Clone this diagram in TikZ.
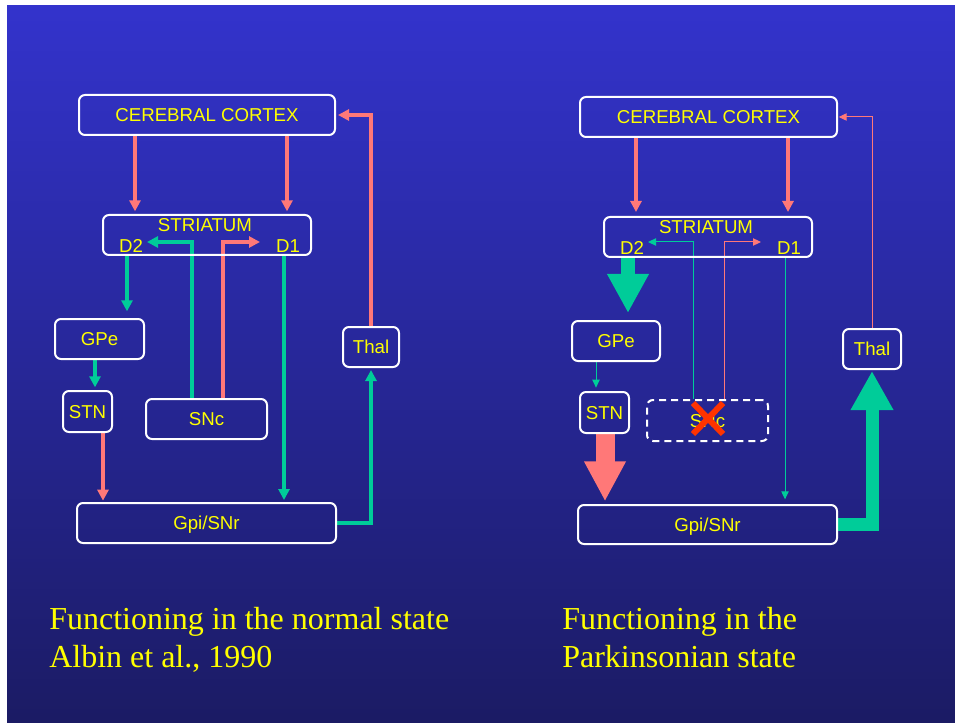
\documentclass[tikz,border=0pt]{standalone}
\usepackage{fontspec}
\setmainfont{Liberation Serif}
\setsansfont{Liberation Sans}
\usetikzlibrary{arrows.meta,calc}

\definecolor{slidetop}{RGB}{51,51,204}
\definecolor{slidebottom}{RGB}{27,27,100}
\definecolor{exc}{RGB}{255,120,120}
\definecolor{inh}{RGB}{0,204,153}
\definecolor{lbl}{RGB}{255,255,0}
\definecolor{lesion}{RGB}{255,51,0}

\pgfdeclarelayer{slide}
\pgfdeclarelayer{wires}
\pgfsetlayers{slide,wires,main}

\begin{document}
% one unit = one pixel of a 955 x 723 slide, y growing downwards
\begin{tikzpicture}[x=0.75pt,y=-0.75pt,
  area/.style={draw=white, line width=1.5pt, rounded corners=4.5pt, text=lbl,
    font=\sffamily\fontsize{14}{16}\selectfont, text height=10pt, text depth=0pt,
    inner sep=0pt},
  dim/.style 2 args={minimum width=#1*0.75pt, minimum height=#2*0.75pt},
  lost/.style={dash pattern=on 5.25pt off 3.75pt},
  tag/.style={text=lbl, font=\sffamily\fontsize{14}{16}\selectfont, inner sep=0pt,
    anchor=base},
  fibre/.style={line width=3pt, -{Triangle[width=8.25pt,length=8.25pt]}},
  thinfibre/.style={line width=0.75pt, -{Triangle[width=5.5pt,length=6pt]}},
  caption/.style={text=lbl, font=\rmfamily\fontsize{24}{28.5}\selectfont,
    anchor=base west, inner sep=0pt}
]
\useasboundingbox (0,0) rectangle (955,723);

% slide background
\begin{pgfonlayer}{slide}
  \fill[white] (0,0) rectangle (955,723);
  \shade[top color=slidetop, bottom color=slidebottom] (7,6) rectangle (955,723);
\end{pgfonlayer}

% ---------------- normal state ----------------
\node[area, dim={256}{40}] (ctxL) at (207,115) {CEREBRAL CORTEX};
\node[area, dim={208}{40}] (strL) at (207,235) {};
\node[tag] (strLt) at (205,232) {STRIATUM};
\node[tag] (d2L) at (131,253) {D2};
\node[tag] (d1L) at (288,253) {D1};
\node[area, dim={89}{40}] (gpeL) at (99.5,339) {GPe};
\node[area, dim={49}{41}] (stnL) at (87.5,411.5) {STN};
\node[area, dim={121}{40}] (sncL) at (206.5,419) {SNc};
\node[area, dim={259}{40}] (gpiL) at (206.5,523) {Gpi/SNr};
\node[area, dim={56}{40}] (thalL) at (371,347) {Thal};
\coordinate (L-d2in) at (147,242);
\coordinate (L-d1in) at (260,242);

\begin{pgfonlayer}{wires}
  \draw[exc, fibre, shorten >=2pt] (ctxL.south -| 135,0) -- (strL.north -| 135,0);
  \draw[exc, fibre, shorten >=2pt] (ctxL.south -| 287,0) -- (strL.north -| 287,0);
  \draw[inh, fibre, shorten >=5pt] (strL.south -| 127,0) -- (gpeL.north -| 127,0);
  \draw[inh, fibre, shorten >=2pt] (gpeL.south -| 95,0) -- (stnL.north -| 95,0);
  \draw[exc, fibre, shorten >=1pt] (stnL.south -| 103,0) -- (gpiL.north -| 103,0);
  \draw[inh, fibre, shorten >=1.5pt] (strL.south -| 284,0) -- (gpiL.north -| 284,0);
  \draw[inh, fibre] (sncL.north -| 192,0) |- (L-d2in);
  \draw[exc, fibre] (sncL.north -| 223,0) |- (L-d1in);
  \draw[inh, fibre, shorten >=1.5pt] (gpiL.east) -| (thalL.south);
  \draw[exc, fibre, shorten >=1.5pt] (thalL.north) |- (ctxL.east);
\end{pgfonlayer}

% ---------------- parkinsonian state ----------------
\node[area, dim={257}{40}] (ctxR) at (708.5,117) {CEREBRAL CORTEX};
\node[area, dim={208}{40}] (strR) at (708,237) {};
\node[tag] (strRt) at (706,234) {STRIATUM};
\node[tag] (d2R) at (632,255) {D2};
\node[tag] (d1R) at (789,255) {D1};
\node[area, dim={88}{40}] (gpeR) at (616,341) {GPe};
\node[area, dim={49}{41}] (stnR) at (604.5,412.5) {STN};
\node[area, lost, dim={121}{41}] (sncR) at (707.5,420.5) {SNc};
\node[area, dim={259}{39}] (gpiR) at (707.5,524.5) {Gpi/SNr};
\node[area, dim={58}{40}] (thalR) at (872,349) {Thal};
\coordinate (R-d2in) at (648,242);
\coordinate (R-d1in) at (761,242);

\begin{pgfonlayer}{wires}
  \draw[exc, fibre, shorten >=3pt] (ctxR.south -| 636,0) -- (strR.north -| 636,0);
  \draw[exc, fibre, shorten >=3pt] (ctxR.south -| 788,0) -- (strR.north -| 788,0);
  \draw[inh, line width=10.5pt, -{Triangle[width=29.25pt,length=29.25pt]},
    shorten >=5.25pt] (strR.south -| 628,0) -- (gpeR.north -| 628,0);
  \draw[inh, thinfibre, shorten >=2.5pt] (gpeR.south -| 596,0) -- (stnR.north -| 596,0);
  \draw[exc, line width=14.25pt, -{Triangle[width=29.25pt,length=30pt]},
    shorten >=2pt] (stnR.south -| 605,0) -- (gpiR.north -| 605,0);
  \draw[inh, thinfibre] (sncR.north -| 693,0) |- (R-d2in);
  \draw[exc, thinfibre] (sncR.north -| 724,0) |- (R-d1in);
  \draw[inh, thinfibre, shorten >=3.5pt] (strR.south -| 785,0) -- (gpiR.north -| 785,0);
  \draw[inh, line width=9.75pt, -{Triangle[width=30pt,length=29.25pt]},
    shorten >=0.75pt] (gpiR.east) -| (thalR.south);
  \draw[exc, thinfibre, shorten >=0.5pt] (thalR.north) |- (ctxR.east);
\end{pgfonlayer}

% lesion of the substantia nigra pars compacta
\draw[lesion, line width=4.5pt]
  ($(sncR.center)+(-14.5,-17.5)$) -- ($(sncR.center)+(15.5,13.5)$)
  ($(sncR.center)+(15.5,-17.5)$) -- ($(sncR.center)+(-14.5,13.5)$);

% captions
\node[caption] (capL1) at (49,629) {Functioning in the normal state};
\node[caption] (capL2) at (49,667) {Albin et al., 1990};
\node[caption] (capR1) at (562,629) {Functioning in the};
\node[caption] (capR2) at (562,667) {Parkinsonian state};
\end{tikzpicture}
\end{document}
